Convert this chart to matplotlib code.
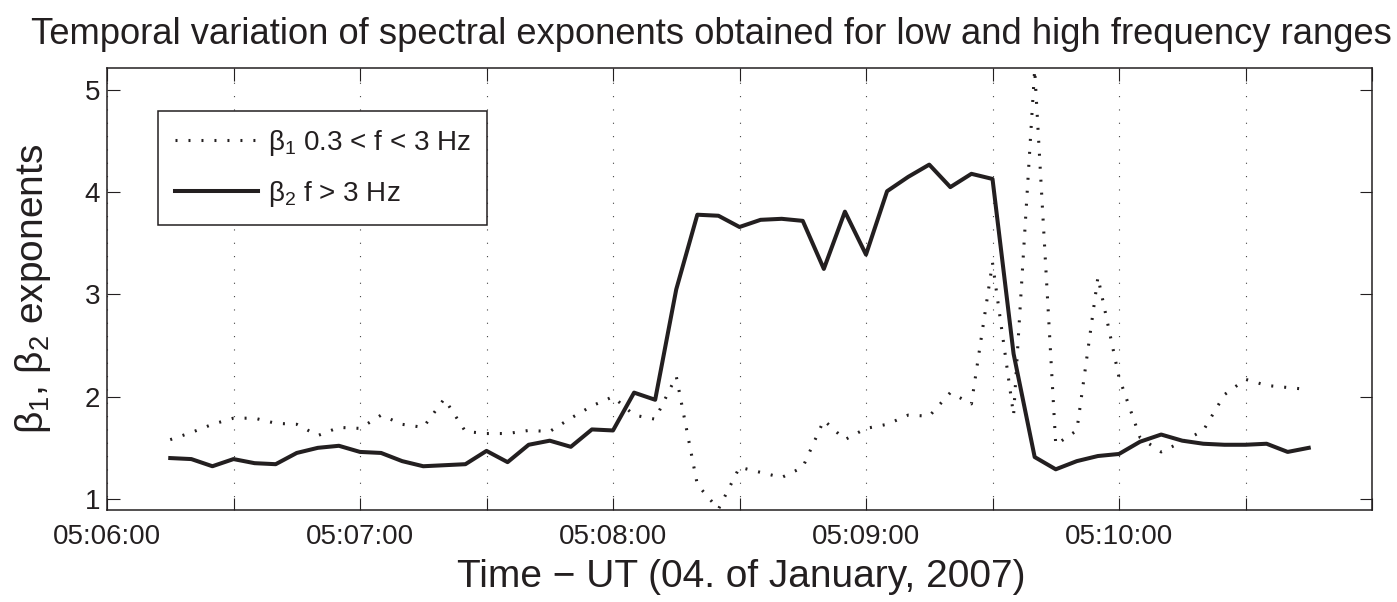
import numpy as np
import pandas as pd
import matplotlib
matplotlib.use("Agg")
import matplotlib.pyplot as plt
import matplotlib.dates as mdates
from matplotlib.ticker import FuncFormatter

# Spectral exponents, one estimate every 5 s starting 05:06:15 UT
t_start = "2007-01-04 05:06:15"
t_step = "5s"
beta1 = [1.58, 1.65, 1.73, 1.79, 1.79, 1.74, 1.73, 1.62, 1.70, 1.69,
         1.82, 1.73, 1.70, 1.98, 1.66, 1.64, 1.64, 1.67, 1.66, 1.79,
         1.91, 2.00, 1.82, 1.78, 2.20, 1.14, 0.90, 1.31, 1.26, 1.21,
         1.31, 1.77, 1.58, 1.69, 1.73, 1.82, 1.81, 2.04, 1.93, 3.31,
         1.82, 5.20, 1.53, 1.67, 3.17, 2.19, 1.60, 1.46, 1.56, 1.67,
         2.02, 2.17, 2.11, 2.09, 2.07]
beta2 = [1.40, 1.39, 1.32, 1.39, 1.35, 1.34, 1.45, 1.50, 1.52, 1.46,
         1.45, 1.37, 1.32, 1.33, 1.34, 1.47, 1.36, 1.53, 1.57, 1.51,
         1.68, 1.67, 2.04, 1.97, 3.05, 3.78, 3.77, 3.66, 3.73, 3.74,
         3.72, 3.25, 3.81, 3.39, 4.01, 4.15, 4.27, 4.05, 4.18, 4.13,
         2.42, 1.41, 1.29, 1.37, 1.42, 1.44, 1.56, 1.63, 1.57, 1.54,
         1.53, 1.53, 1.54, 1.46, 1.50]
labels = [r"$\beta_1$ 0.3 < f < 3 Hz", r"$\beta_2$ f > 3 Hz"]
x_from = np.datetime64("2007-01-04T05:06:00")
x_to = np.datetime64("2007-01-04T05:11:00")

times = pd.date_range(t_start, periods=len(beta1), freq=t_step)

plt.rcParams["font.family"] = "Liberation Sans"
plt.rcParams["mathtext.fontset"] = "custom"
plt.rcParams["mathtext.rm"] = "Liberation Sans"
plt.rcParams["mathtext.it"] = "Liberation Sans"
plt.rcParams["mathtext.default"] = "rm"
ink = "#231f20"

fig = plt.figure(figsize=(13.97, 6.02), dpi=100)
ax = fig.add_axes([107 / 1397, 1 - 510 / 602, 1265 / 1397, 442 / 602])

# thick dotted line: short dashes across the trace, ~12 px apart
ax.plot(times, beta1, color=ink, lw=2.2, ls=(0, (0.65, 3.6)), label=labels[0])
ax.plot(times, beta2, color=ink, lw=2.9, label=labels[1])

ax.set_xlim(x_from, x_to)
ax.set_ylim(0.892, 5.215)
ax.set_yticks([1, 2, 3, 4, 5])


def hms(v, pos):
    # only whole minutes get a label, the closing 05:11:00 stays blank
    sec = int(round(v * 86400)) % 86400
    if sec % 60 or sec >= 5 * 3600 + 11 * 60:
        return ""
    return "%02d:%02d:%02d" % (sec // 3600, sec // 60 % 60, sec % 60)


ax.xaxis.set_major_locator(mdates.SecondLocator(bysecond=[0, 30]))
ax.xaxis.set_major_formatter(FuncFormatter(hms))
ax.tick_params(direction="in", length=9, width=0.8, top=True, right=True,
               labelsize=20, colors=ink)
ax.tick_params(axis="x", pad=10)
ax.tick_params(axis="y", pad=5)
for s in ax.spines.values():
    s.set_color(ink)
    s.set_linewidth(1.1)

ax.grid(axis="x", color="#444444", lw=0.8, ls=(0, (1, 11)))
ax.set_axisbelow(True)

ax.set_title("Temporal variation of spectral exponents obtained for low and high frequency ranges",
             fontsize=26.2, color=ink, x=(711 - 107) / 1265, y=(510 - 44.5) / 442, pad=0)
ax.set_xlabel("Time \u2212 UT (04. of January, 2007)", fontsize=28, color=ink, va="baseline")
ax.xaxis.set_label_coords((741 - 107) / 1265, (510 - 587) / 442)
ax.set_ylabel(r"$\beta_1$, $\beta_2$ exponents", fontsize=28, color=ink, va="baseline")
ax.yaxis.set_label_coords((43 - 107) / 1265, 0.5)

leg = ax.legend(loc="upper left", bbox_to_anchor=(0.0403, 0.9027), borderaxespad=0,
                fontsize=20, fancybox=False, framealpha=1, edgecolor=ink,
                handlelength=3.0, handletextpad=0.35, borderpad=0.6, labelspacing=0.75)
leg.get_frame().set_linewidth(1.1)
for t in leg.get_texts():
    t.set_color(ink)

fig.savefig("out.png", dpi=100)
